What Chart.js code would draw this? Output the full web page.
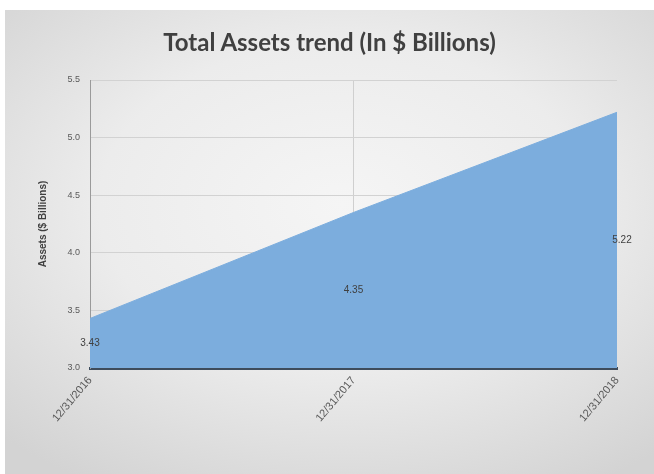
<!DOCTYPE html>
<html>
<head>
<meta charset="utf-8">
<script src="https://cdn.jsdelivr.net/npm/chart.js@4.4.0/dist/chart.umd.min.js"></script>
<style>
  html, body { margin: 0; padding: 0; background: #ffffff; }
  #wrap {
    position: absolute; left: 5px; top: 10px; width: 649px; height: 464px;
    background: radial-gradient(ellipse 75% 70% at 52% 42%, #f5f5f5 0%, #ececec 50%, #d3d3d3 100%);
  }
  #title {
    position: absolute; left: 0; top: 17px; width: 649px; text-align: center;
    font-family: Lato, sans-serif; font-weight: bold; font-size: 24px; color: #404040;
  }
  canvas { display: block; position: absolute; left: 0; top: 0; }
</style>
</head>
<body>
<div id="wrap">
  <canvas id="chart" width="649" height="464"></canvas>
  <div id="title">Total Assets trend (In $ Billions)</div>
</div>
<script>
// data
const dates = ["12/31/2016", "12/31/2017", "12/31/2018"];
const assets = [3.43, 4.35, 5.22];
const yTicks = [3.0, 3.5, 4.0, 4.5, 5.0, 5.5];

// value labels sit halfway between the line and the base of the area
const areaLabels = {
    id: "areaLabels",
    afterDatasetsDraw(chart) {
        const ctx = chart.ctx;
        const meta = chart.getDatasetMeta(0);
        const base = chart.scales.y.getPixelForValue(yTicks[0]);
        ctx.save();
        ctx.font = "10px 'Liberation Sans', sans-serif";
        ctx.fillStyle = "#404040";
        ctx.textAlign = "center";
        ctx.textBaseline = "middle";
        meta.data.forEach((pt, i) => {
            let x = pt.x;
            if (i === meta.data.length - 1) x += 5;
            ctx.fillText(assets[i].toFixed(2), x, (pt.y + base) / 2);
        });
        ctx.restore();
    }
};

new Chart(document.getElementById("chart"), {
    type: "line",
    data: {
        labels: dates,
        datasets: [{
            data: assets,
            fill: "start",
            backgroundColor: "rgb(124,173,221)",
            borderColor: "rgb(124,173,221)",
            borderWidth: 1,
            pointRadius: 0,
            tension: 0
        }]
    },
    options: {
        responsive: false,
        animation: false,
        layout: { padding: { left: 0, right: 37, top: 70, bottom: 0 } },
        plugins: {
            legend: { display: false },
            tooltip: { enabled: false }
        },
        scales: {
            x: {
                type: "category",
                offset: false,
                grid: {
                    color: ctx => ctx.index === dates.length - 1 ? "rgba(0,0,0,0)" : "#cfcfcf",
                    drawTicks: false
                },
                border: { color: "#3e4c5c", width: 3 },
                ticks: {
                    color: "#595959",
                    font: { family: "'Liberation Sans', sans-serif", size: 11 },
                    maxRotation: 50, minRotation: 50,
                    padding: 6
                },
                afterFit(scale) { scale.height = 106; }
            },
            y: {
                min: 3, max: 5.5,
                afterBuildTicks(scale) { scale.ticks = yTicks.map(v => ({ value: v })); },
                grid: { color: "#d2d2d2", drawTicks: false },
                border: { color: "#9a9a9a", width: 1 },
                ticks: {
                    color: "#595959",
                    font: { family: "'Liberation Sans', sans-serif", size: 9 },
                    padding: 10,
                    callback: v => v.toFixed(1)
                },
                title: {
                    display: true,
                    text: "Assets ($ Billions)",
                    color: "#404040",
                    font: { family: "'Liberation Sans', sans-serif", size: 10, weight: "bold" },
                    padding: { top: 32, bottom: 0 }
                },
                afterFit(scale) { scale.width = 85; }
            }
        }
    },
    plugins: [areaLabels]
});
</script>
</body>
</html>
